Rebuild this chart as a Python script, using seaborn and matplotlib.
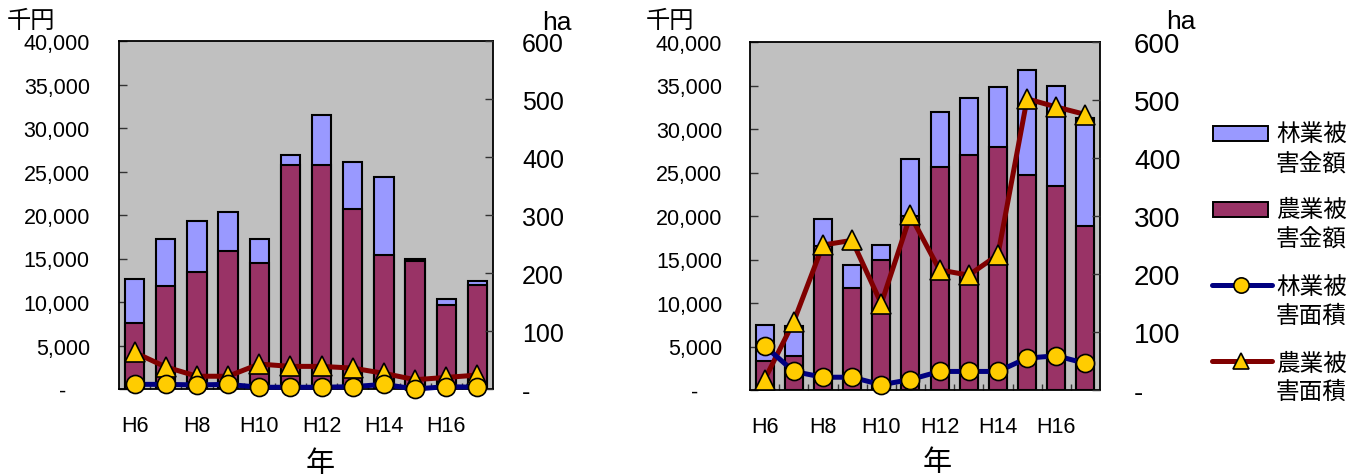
import numpy as np
import pandas as pd
import matplotlib
matplotlib.use("Agg")
import matplotlib.pyplot as plt
import seaborn as sns
from matplotlib.patches import Rectangle
from matplotlib.lines import Line2D
from matplotlib.ticker import FuncFormatter, MultipleLocator, FixedLocator

# ---- data -------------------------------------------------------------
years = ["H6", "H7", "H8", "H9", "H10", "H11", "H12", "H13", "H14", "H15", "H16", "H17"]
shown_years = ["H6", "H8", "H10", "H12", "H14", "H16"]

# left panel: damage amount (thousand yen) and damaged area (ha)
forest_yen_1 = [5100, 5400, 5800, 4500, 2700, 1200, 5800, 5400, 9000, 250, 600, 500]
agri_yen_1 = [7600, 11800, 13500, 15900, 14500, 25700, 25700, 20700, 15400, 14700, 9700, 11900]
forest_ha_1 = [8, 8, 7, 8, 3, 3, 3, 4, 8, 0, 4, 3]
agri_ha_1 = [63, 38, 22, 22, 43, 39, 39, 36, 27, 16, 20, 24]

# right panel
forest_yen_2 = [4200, 3400, 3100, 2700, 1700, 6500, 6400, 6600, 6900, 12100, 11500, 12400]
agri_yen_2 = [3300, 3900, 16500, 11700, 15000, 20000, 25600, 27000, 27900, 24700, 23500, 18900]
forest_ha_2 = [76, 32, 22, 22, 9, 18, 32, 32, 32, 55, 59, 46]
agri_ha_2 = [18, 118, 250, 258, 149, 301, 207, 198, 233, 502, 488, 475]

legend_labels = ["林業被害金額", "農業被害金額", "林業被害面積", "農業被害面積"]

# ---- style ------------------------------------------------------------
FOREST = "#9999FF"
AGRI = "#993366"
NAVY = "#000080"
DARKRED = "#800000"
YELLOW = "#FFCC00"
BG = "#C0C0C0"
TICKC = "#333333"

W, H = 1361, 477
sns.set_theme(style="white")
plt.rcParams["font.family"] = ["Liberation Sans", "Noto Sans CJK JP"]
plt.rcParams["axes.unicode_minus"] = False
plt.rcParams["text.color"] = "black"
plt.rcParams["xtick.color"] = "black"
plt.rcParams["ytick.color"] = "black"
plt.rcParams["xtick.labelcolor"] = "black"
plt.rcParams["ytick.labelcolor"] = "black"

fig = plt.figure(figsize=(W / 100, H / 100), dpi=100)


def box(l, t, r, b):
    return [l / W, 1 - b / H, (r - l) / W, (b - t) / H]


def fx(px):
    return px / W


def fy(py):
    return 1 - py / H


def panel(rect, forest_yen, agri_yen, forest_ha, agri_ha, pad_l, pad_r, right_fs):
    ax = fig.add_axes(rect)
    ax.set_facecolor(BG)
    df = pd.DataFrame({
        "year": years,
        "total": np.add(forest_yen, agri_yen),
        "agri": agri_yen,
    })
    # forest amount stacked on top of agriculture amount
    sns.barplot(data=df, x="year", y="total", color=FOREST, saturation=1,
                width=0.62, edgecolor="black", linewidth=1.5, errorbar=None, ax=ax)
    sns.barplot(data=df, x="year", y="agri", color=AGRI, saturation=1,
                width=0.62, edgecolor="black", linewidth=1.5, errorbar=None, ax=ax)
    ax.set_xlim(-0.5, 11.5)
    ax.set_ylim(0, 40000)
    ax.set_xlabel("")
    ax.set_ylabel("")
    ax.yaxis.set_major_locator(MultipleLocator(5000))
    ax.yaxis.set_major_formatter(FuncFormatter(lambda v, p: f"{int(v):,}" if v > 0 else "-    "))
    ax.tick_params(axis="y", which="major", direction="in", length=6, width=1,
                   color=TICKC, labelcolor="black", pad=pad_l, labelsize=15.5, left=True)
    ax.set_xticks(range(0, 12, 2), shown_years)
    ax.tick_params(axis="x", which="major", length=0, pad=19, labelsize=15.5,
                   labelcolor="black")
    ax.xaxis.set_minor_locator(FixedLocator(np.arange(0.5, 11, 1)))
    ax.tick_params(axis="x", which="minor", direction="in", length=4, width=1,
                   color=TICKC, bottom=True)
    for s in ax.spines.values():
        s.set_color("black")
        s.set_linewidth(1.3)

    ax2 = ax.twinx()
    x = np.arange(len(years))
    sns.lineplot(x=x, y=agri_ha, color=DARKRED, lw=3.6, marker="^", markersize=14,
                 markerfacecolor=YELLOW, markeredgecolor="black", markeredgewidth=1.2,
                 clip_on=False, ax=ax2)
    sns.lineplot(x=x, y=forest_ha, color=NAVY, lw=3.6, marker="o", markersize=13,
                 markerfacecolor=YELLOW, markeredgecolor="black", markeredgewidth=1.2,
                 clip_on=False, ax=ax2)
    ax2.set_ylim(0, 600)
    ax2.set_xlim(-0.5, 11.5)
    ax2.set_ylabel("")
    ax2.yaxis.set_major_locator(MultipleLocator(100))
    ax2.yaxis.set_major_formatter(FuncFormatter(lambda v, p: f"{int(v)}" if v > 0 else "-"))
    ax2.tick_params(axis="y", which="major", direction="in", length=6, width=1,
                    color=TICKC, labelcolor="black", pad=pad_r, labelsize=right_fs, right=True)
    for s in ax2.spines.values():
        s.set_visible(False)
    return ax, ax2


panel(box(119, 42, 493, 390), forest_yen_1, agri_yen_1, forest_ha_1, agri_ha_1, 21, 21, 18)
panel(box(750, 43, 1100, 391), forest_yen_2, agri_yen_2, forest_ha_2, agri_ha_2, 20, 24.5, 20)

# unit and axis titles
fig.text(fx(7), fy(22), "千円", ha="left", va="center", fontsize=17.5)
fig.text(fx(646), fy(22), "千円", ha="left", va="center", fontsize=17.5)
fig.text(fx(542), fy(30), "ha", ha="left", va="baseline", fontsize=19)
fig.text(fx(1166), fy(29), "ha", ha="left", va="baseline", fontsize=19)
fig.text(fx(320), fy(464), "年", ha="center", va="center", fontsize=21)
fig.text(fx(937), fy(463), "年", ha="center", va="center", fontsize=21)

# legend
first_line = [136, 211, 289, 365]
for i, label in enumerate(legend_labels):
    yc = first_line[i]
    if i < 2:
        color = FOREST if i == 0 else AGRI
        top = yc - 9 if i == 0 else yc - 8
        fig.add_artist(Rectangle((fx(1213), fy(top + 15)), 55 / W, 15 / H,
                                 facecolor=color, edgecolor="black", lw=1.4,
                                 transform=fig.transFigure))
    else:
        color = NAVY if i == 2 else DARKRED
        marker = "o" if i == 2 else "^"
        ms = 11 if i == 2 else 12
        yl = yc - 3
        fig.add_artist(Line2D([fx(1212), fx(1272)], [fy(yl), fy(yl)], color=color, lw=3.6,
                              transform=fig.transFigure))
        fig.add_artist(Line2D([fx(1241)], [fy(yl)], marker=marker, ms=ms, color=color,
                              markerfacecolor=YELLOW, markeredgecolor="black",
                              markeredgewidth=1.2, transform=fig.transFigure))
    fig.text(fx(1276), fy(yc), label[:3], ha="left", va="center", fontsize=17)
    fig.text(fx(1276), fy(yc + 28), label[3:], ha="left", va="center", fontsize=17)

fig.savefig("out.png", dpi=100)
